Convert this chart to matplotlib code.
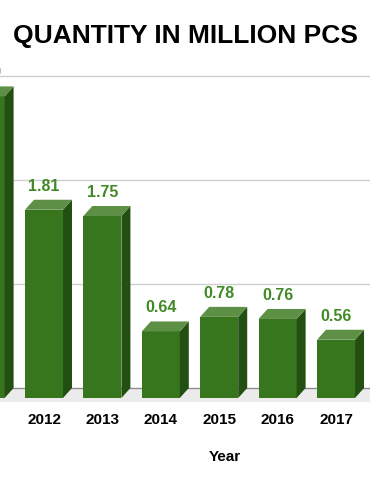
import matplotlib.pyplot as plt
from matplotlib.patches import Polygon

# data
years = ['2011', '2012', '2013', '2014', '2015', '2016', '2017']
qty = [2.90, 1.81, 1.75, 0.64, 0.78, 0.76, 0.56]
labels = ['2.90', '1.81', '1.75', '0.64', '0.78', '0.76', '0.56']

front_col = '#38761d'
side_col = '#244f12'
top_col = '#5d8f45'
lab_col = '#418a26'

plt.rcParams['font.family'] = ['Liberation Sans', 'DejaVu Sans']

fig = plt.figure(figsize=(3.7, 4.9), dpi=100)
ax = fig.add_axes([0, 88 / 490, 1, 352 / 490])

w = 0.651     # bar width (category units)
dx = 0.154    # 3d depth, x
dy = 0.096    # 3d depth, y

# floor
ax.axhspan(-0.1346, 0, color='#ebebeb', zorder=0, lw=0)
ax.axhline(0, color='#8c8c8c', lw=1, zorder=1)
for g in [1, 2, 3]:
    ax.axhline(g, color='#cfcfcf', lw=1, zorder=1)

x = list(range(len(years)))
ax.bar(x, qty, width=w, bottom=-dy, color=front_col, zorder=3, lw=0)
for i, v in zip(x, qty):
    l, r = i - w / 2, i + w / 2
    side = Polygon([(r, -dy), (r + dx, 0), (r + dx, v), (r, v - dy)],
                   closed=True, fc=side_col, lw=0, zorder=3)
    top = Polygon([(l, v - dy), (r, v - dy), (r + dx, v), (l + dx, v)],
                  closed=True, fc=top_col, lw=0, zorder=3)
    ax.add_patch(side)
    ax.add_patch(top)

for i, v, t in zip(x, qty, labels):
    ax.text(i, v + 0.087, t, ha='center', va='baseline', color=lab_col,
            fontsize=11.5, fontweight='bold', clip_on=False)

ax.set_xticks(x[1:], years[1:])
ax.tick_params(axis='x', length=0, pad=8, labelsize=11)
for lb in ax.get_xticklabels():
    lb.set_fontweight('bold')
ax.set_yticks([])
for s in ax.spines.values():
    s.set_visible(False)
# limits last, set_xticks would widen them
ax.set_xlim(0.2466, 6.582)
ax.set_ylim(-0.1346, 3.25)

fig.text(185 / 370, 1 - 36 / 490, 'QUANTITY IN MILLION PCS', ha='center', va='center',
         fontsize=19, fontweight='bold')
fig.text(225 / 370, 1 - 457 / 490, 'Year', ha='center', va='center',
         fontsize=11, fontweight='bold')

fig.savefig('out.png', dpi=100)
